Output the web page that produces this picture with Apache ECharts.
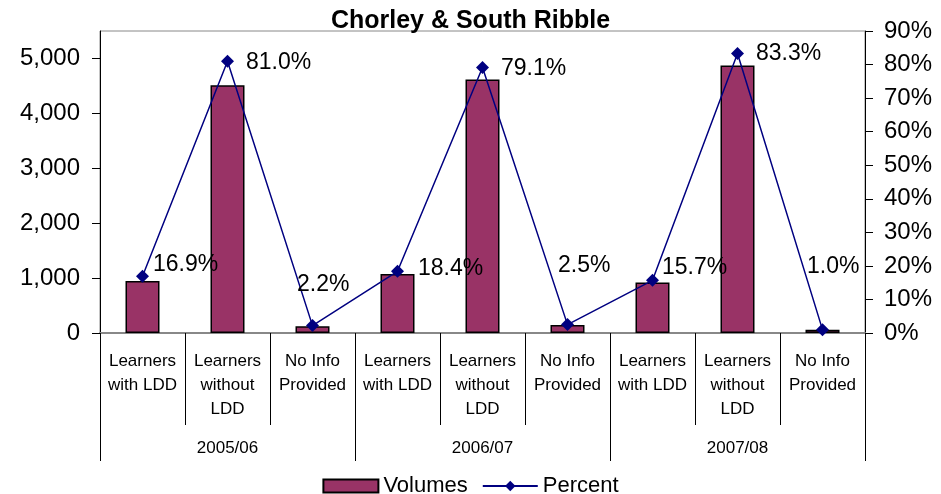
<!DOCTYPE html>
<html>
<head>
<meta charset="utf-8">
<title>Chorley & South Ribble</title>
<script src="https://cdn.jsdelivr.net/npm/echarts@6/dist/echarts.min.js"></script>
<style>
  html, body { margin: 0; padding: 0; background: #fff; }
  #chart { width: 941px; height: 494px; }
</style>
</head>
<body>
<div id="chart"></div>
<script>
// data
const categories = [
  'Learners\nwith LDD', 'Learners\nwithout\nLDD', 'No Info\nProvided',
  'Learners\nwith LDD', 'Learners\nwithout\nLDD', 'No Info\nProvided',
  'Learners\nwith LDD', 'Learners\nwithout\nLDD', 'No Info\nProvided'
];
const years = ['2005/06', '2006/07', '2007/08'];
const volumes = [945, 4510, 123, 1074, 4618, 146, 918, 4873, 58];
const percent = [16.9, 81.0, 2.2, 18.4, 79.1, 2.5, 15.7, 83.3, 1.0];
const volumeTicks = [0, 1000, 2000, 3000, 4000, 5000];

const font = '"Liberation Sans", Arial, sans-serif';
const chart = echarts.init(document.getElementById('chart'));

// where each percent label got dragged to in the original (px, from the default right spot)
const labelNudge = [
  [-8, -12], [0, 1], [-34, -41],
  [2, -3], [0, 1], [-28, -59],
  [-9, -13], [0, 0], [-34, -63]
];
const pctData = percent.map(function (v, i) {
  return { value: v, label: { offset: labelNudge[i] } };
});

chart.setOption({
  animation: false,
  title: {
    text: 'Chorley & South Ribble',
    left: 'center',
    top: 4,
    textStyle: { fontFamily: font, fontSize: 25, fontWeight: 'bold', color: '#000' }
  },
  legend: {
    top: 470,
    left: 'center',
    itemWidth: 55,
    itemHeight: 13,
    itemGap: 14,
    textStyle: { fontFamily: font, fontSize: 22, color: '#000' },
    data: [{ name: 'Volumes', icon: 'rect' }, 'Percent']
  },
  grid: {
    left: 100, right: 76, top: 31, bottom: 161,
    show: true, borderColor: '#888', borderWidth: 1
  },
  xAxis: [
    {
      type: 'category',
      data: categories,
      position: 'bottom',
      axisLine: { lineStyle: { color: '#888', width: 2 } },
      axisTick: { show: true, interval: 0, length: 92, lineStyle: { color: '#000' } },
      axisLabel: {
        interval: 0, margin: 16, fontFamily: font, fontSize: 17,
        lineHeight: 24, color: '#000'
      }
    },
    {
      type: 'category',
      data: years,
      position: 'bottom',
      axisLine: { show: false },
      axisTick: { show: true, interval: 0, length: 128, lineStyle: { color: '#000' } },
      axisLabel: { margin: 107, fontFamily: font, fontSize: 17, color: '#000' }
    }
  ],
  yAxis: [
    {
      type: 'value',
      min: 0, max: 5500,
      splitLine: { show: false },
      axisLine: { show: true, lineStyle: { color: '#000' } },
      axisTick: { show: true, length: 8, customValues: volumeTicks, lineStyle: { color: '#000' } },
      axisLabel: {
        customValues: volumeTicks, margin: 20, fontFamily: font, fontSize: 24, color: '#000',
        formatter: function (v) { return v.toLocaleString('en-US'); }
      }
    },
    {
      type: 'value',
      min: 0, max: 90, interval: 10,
      position: 'right',
      splitLine: { show: false },
      axisLine: { show: true, lineStyle: { color: '#000' } },
      axisTick: { show: true, length: 8, lineStyle: { color: '#000' } },
      axisLabel: { margin: 19, fontFamily: font, fontSize: 24, color: '#000', formatter: '{value}%' }
    }
  ],
  series: [
    {
      name: 'Volumes',
      type: 'bar',
      xAxisIndex: 0,
      yAxisIndex: 0,
      barWidth: 34,
      data: volumes,
      itemStyle: { color: '#993366', borderColor: '#000', borderWidth: 1.5 }
    },
    {
      name: 'Percent',
      type: 'line',
      xAxisIndex: 0,
      yAxisIndex: 1,
      data: pctData,
      symbol: 'diamond',
      symbolSize: 13,
      lineStyle: { color: '#000080', width: 1.5 },
      itemStyle: { color: '#000080' },
      label: {
        show: true,
        position: 'right',
        distance: 12,
        fontFamily: font,
        fontSize: 23,
        color: '#000',
        formatter: function (p) { return p.value.toFixed(1) + '%'; }
      },
      z: 3
    }
  ]
});
</script>
</body>
</html>
